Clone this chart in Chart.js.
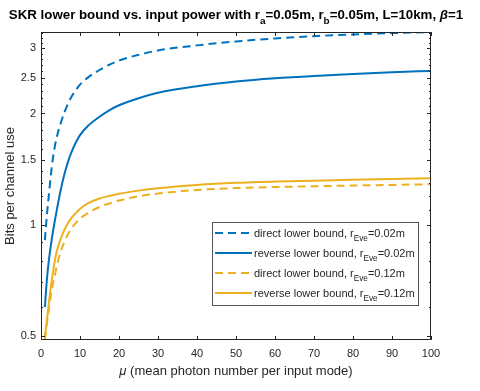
<!DOCTYPE html>
<html>
<head>
<meta charset="utf-8">
<script src="https://cdn.jsdelivr.net/npm/chart.js@4"></script>
<style>
  html, body { margin: 0; padding: 0; background: #fff; }
  #wrap { width: 480px; height: 391px; }
</style>
</head>
<body>
<div id="wrap"><canvas id="c" width="480" height="391"></canvas></div>
<script>
// mean photon number per input mode
var mu = [1, 1.5, 2, 2.5, 3, 3.5, 4, 5, 6, 7, 8, 9, 10, 12, 15, 17.5, 20, 25, 30, 40, 50, 60, 70, 80, 90, 100];

// rEve = 0.02m
var directNear  = [0.91, 1.06, 1.20, 1.355, 1.50, 1.62, 1.718, 1.875, 2.014, 2.135, 2.236, 2.319, 2.393, 2.50, 2.622, 2.708, 2.78, 2.88, 2.96, 3.055, 3.13, 3.19, 3.235, 3.27, 3.297, 3.318];
var reverseNear = [0.60, 0.71, 0.80, 0.875, 0.95, 1.02, 1.09, 1.235, 1.37, 1.49, 1.59, 1.675, 1.748, 1.85, 1.96, 2.04, 2.105, 2.20, 2.275, 2.37, 2.44, 2.49, 2.527, 2.557, 2.583, 2.607];
// rEve = 0.12m
var directFar   = [0.49, 0.54, 0.59, 0.64, 0.688, 0.728, 0.77, 0.845, 0.90, 0.948, 0.985, 1.015, 1.04, 1.077, 1.118, 1.143, 1.164, 1.195, 1.216, 1.243, 1.258, 1.266, 1.272, 1.278, 1.283, 1.288];
var reverseFar  = [0.50, 0.55, 0.615, 0.678, 0.738, 0.795, 0.845, 0.915, 0.97, 1.015, 1.05, 1.08, 1.105, 1.143, 1.179, 1.198, 1.214, 1.238, 1.257, 1.283, 1.30, 1.31, 1.317, 1.324, 1.331, 1.337];

var xTicks = [0, 10, 20, 30, 40, 50, 60, 70, 80, 90, 100];
var yTicks = [0.5, 1, 1.5, 2, 2.5, 3];

var BLUE = "#0072BD", GOLD = "#EDB120", INK = "#262626";
var FONT = "'Liberation Sans', Arial, sans-serif";

function pts(arr) {
    return mu.map(function(m, i){ return {x: m, y: arr[i]}; });
}

var legendItems = [
    {color: BLUE, dash: [8, 5], pre: "direct lower bound, r", post: "=0.02m"},
    {color: BLUE, dash: [],     pre: "reverse lower bound, r", post: "=0.02m"},
    {color: GOLD, dash: [8, 5], pre: "direct lower bound, r", post: "=0.12m"},
    {color: GOLD, dash: [],     pre: "reverse lower bound, r", post: "=0.12m"}
];

// text pieces on one line, some subscript / italic
function richWidth(ctx, parts, size, weight) {
    var w = 0;
    parts.forEach(function(p){
        ctx.font = (p.it ? "italic " : "") + weight + " " + (p.sub ? size * 0.75 : size) + "px " + FONT;
        w += ctx.measureText(p.t).width;
    });
    return w;
}
function richDraw(ctx, parts, x, y, size, weight) {
    parts.forEach(function(p){
        ctx.font = (p.it ? "italic " : "") + weight + " " + (p.sub ? size * 0.75 : size) + "px " + FONT;
        ctx.fillText(p.t, x, p.sub ? y + size * 0.35 : y);
        x += ctx.measureText(p.t).width;
    });
}

var decor = {
    id: "decor",
    afterDraw: function(chart) {
        var ctx = chart.ctx, a = chart.chartArea;
        var xs = chart.scales.x, ys = chart.scales.y;
        ctx.save();
        ctx.strokeStyle = INK;
        ctx.lineWidth = 1;
        ctx.beginPath();
        ctx.rect(a.left + 0.5, a.top + 0.5, a.right - a.left - 1, a.bottom - a.top - 1);
        ctx.stroke();

        // inward ticks, all four sides
        ctx.beginPath();
        xTicks.forEach(function(v){
            var px = Math.round(xs.getPixelForValue(v)) + 0.5;
            ctx.moveTo(px, a.bottom); ctx.lineTo(px, a.bottom - 4);
            ctx.moveTo(px, a.top); ctx.lineTo(px, a.top + 4);
        });
        for (var k = 5; k <= 33; k++) {
            var py = Math.round(ys.getPixelForValue(k / 10)) + 0.5;
            if (py < a.top || py > a.bottom) continue;
            var len = (k % 5 === 0) ? 4 : 2;
            ctx.moveTo(a.left, py); ctx.lineTo(a.left + len, py);
            ctx.moveTo(a.right, py); ctx.lineTo(a.right - len, py);
        }
        ctx.stroke();

        // title
        ctx.fillStyle = "#000";
        ctx.textBaseline = "alphabetic";
        var title = [
            {t: "SKR lower bound vs. input power with r"}, {t: "a", sub: true},
            {t: "=0.05m, r"}, {t: "b", sub: true},
            {t: "=0.05m, L=10km, "}, {t: "\u03B2", it: true}, {t: "=1"}
        ];
        var tw = richWidth(ctx, title, 13.3, "bold");
        richDraw(ctx, title, 236 - tw / 2, 19, 13.3, "bold");

        // x label
        ctx.fillStyle = INK;
        var xl = [{t: "\u03BC", it: true}, {t: " (mean photon number per input mode)"}];
        var xw = richWidth(ctx, xl, 13, "normal");
        richDraw(ctx, xl, (a.left + a.right) / 2 - xw / 2, 375, 13, "normal");

        // y label
        ctx.save();
        ctx.translate(14, (a.top + a.bottom) / 2);
        ctx.rotate(-Math.PI / 2);
        ctx.font = "13px " + FONT;
        ctx.textAlign = "center";
        ctx.fillText("Bits per channel use", 0, 0);
        ctx.restore();

        // legend
        var bx = 212, by = 222, bw = 206, bh = 83;
        ctx.fillStyle = "#fff";
        ctx.fillRect(bx, by, bw, bh);
        ctx.strokeStyle = "#555";
        ctx.lineWidth = 1;
        ctx.strokeRect(bx + 0.5, by + 0.5, bw, bh);
        legendItems.forEach(function(it, i){
            var ry = 233 + i * 20;
            ctx.strokeStyle = it.color;
            ctx.lineWidth = 2;
            ctx.setLineDash(it.dash);
            ctx.beginPath();
            ctx.moveTo(215, ry); ctx.lineTo(252, ry);
            ctx.stroke();
            ctx.setLineDash([]);
            ctx.fillStyle = INK;
            richDraw(ctx, [{t: it.pre}, {t: "Eve", sub: true}, {t: it.post}], 254, ry + 4, 11, "normal");
        });
        ctx.restore();
    }
};

function ds(label, arr, color, dash) {
    return {
        label: label, data: pts(arr),
        borderColor: color, backgroundColor: color,
        borderWidth: 2, borderDash: dash,
        pointRadius: 0, cubicInterpolationMode: "monotone", fill: false
    };
}

new Chart(document.getElementById("c").getContext("2d"), {
    type: "line",
    data: {
        datasets: [
            ds("direct lower bound, rEve=0.02m", directNear, BLUE, [8, 5]),
            ds("reverse lower bound, rEve=0.02m", reverseNear, BLUE, []),
            ds("direct lower bound, rEve=0.12m", directFar, GOLD, [8, 5]),
            ds("reverse lower bound, rEve=0.12m", reverseFar, GOLD, [])
        ]
    },
    options: {
        responsive: false,
        animation: false,
        layout: {padding: {left: 0, top: 32, right: 49, bottom: 0}},
        plugins: {legend: {display: false}, tooltip: {enabled: false}, title: {display: false}},
        scales: {
            x: {
                type: "linear", min: 0, max: 100,
                grid: {display: false, drawTicks: false},
                border: {display: false},
                afterFit: function(s){ s.height = 51; },
                afterBuildTicks: function(s){ s.ticks = xTicks.map(function(v){ return {value: v}; }); },
                ticks: {color: INK, padding: 7, maxRotation: 0, font: {family: FONT, size: 11}}
            },
            y: {
                type: "logarithmic", min: 0.489, max: 3.32,
                grid: {display: false, drawTicks: false},
                border: {display: false},
                afterFit: function(s){ s.width = 41; },
                afterBuildTicks: function(s){ s.ticks = yTicks.map(function(v){ return {value: v}; }); },
                ticks: {color: INK, padding: 5, font: {family: FONT, size: 11},
                        callback: function(v){ return String(v); }}
            }
        }
    },
    plugins: [decor]
});
</script>
</body>
</html>
